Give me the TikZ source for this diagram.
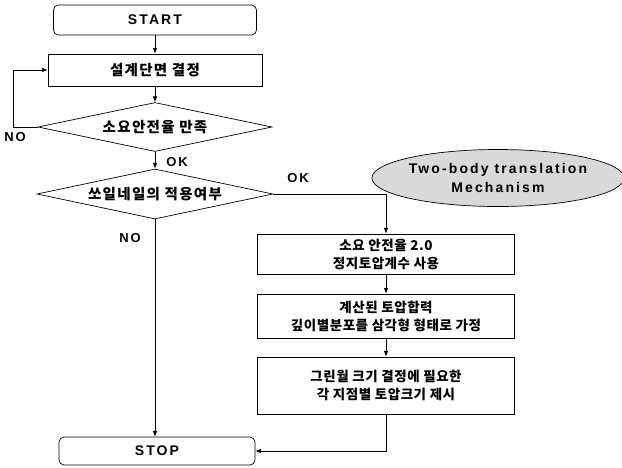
\documentclass[tikz,border=0pt]{standalone}
\usepackage{fontspec}
\setmainfont{Noto Sans CJK KR}
\newfontfamily\krwide{Noto Sans CJK KR}[LetterSpace=9]
\newfontfamily\krnarrow{Noto Sans CJK KR}[LetterSpace=4]
\newfontfamily\latinfont{Liberation Sans}[LetterSpace=15]
\usetikzlibrary{arrows.meta}
\usetikzlibrary{shapes.geometric}
\usetikzlibrary{positioning}

\tikzset{
	terminal/.style={draw, rectangle, rounded corners=5pt, font=\latinfont\bfseries\fontsize{14}{17}\selectfont},
	stepbox/.style={draw, rectangle, align=center, font=\krnarrow\bfseries\fontsize{13.5}{18}\selectfont},
	widebox/.style={draw, rectangle, font=\krwide\bfseries\fontsize{14.5}{18}\selectfont},
	decision/.style={draw, diamond, aspect=4.8, inner sep=0pt, font=\krwide\bfseries\fontsize{14.5}{18}\selectfont},
	note/.style={draw, ellipse, fill=gray!30, align=center, inner sep=0pt, font=\latinfont\bfseries\fontsize{14}{19}\selectfont},
	lbl/.style={font=\latinfont\bfseries\fontsize{13}{15}\selectfont},
	arr/.style={-{Latex[length=2mm, width=1.6mm]}}
}

\begin{document}
\begin{tikzpicture}[x=1pt, y=-1pt, line width=0.7pt]
			\useasboundingbox (0,0) rectangle (622,467);
			
			% left column
			\node[terminal, minimum width=203pt, minimum height=30pt] (start) at (155,20) {START};
			\node[widebox, minimum width=214pt, minimum height=32pt] (design) at (155,70) {설계단면 결정};
			\node[decision, minimum width=234pt, minimum height=49pt] (check1) at (155,127) {소요안전율 만족};
			\node[decision, minimum width=236pt, minimum height=50pt] (check2) at (155,194) {쏘일네일의 적용여부};
			\node[terminal, minimum width=196pt, minimum height=28pt] (stop) at (157,451) {STOP};
			
			% right column
			\node[note, minimum width=247pt, minimum height=57pt] (mech) at (498,178) {Two-body translation\\Mechanism};
			\node[stepbox, minimum width=257pt, minimum height=40pt] (coef) at (386,254) {소요 안전율 2.0\\정지토압계수 사용};
			\node[stepbox, minimum width=257pt, minimum height=44pt] (dist) at (386,316) {계산된 토압합력\\깊이별분포를 삼각형 형태로 가정};
			\node[stepbox, minimum width=257pt, minimum height=57pt] (size) at (386,385.5) {그린월 크기 결정에 필요한\\각 지점별 토압크기 제시};
			
			% labels
			\node[lbl] (no1) at (15,137) {NO};
			\node[lbl] (ok1) at (177,162) {OK};
			\node[lbl] (ok2) at (298,178) {OK};
			\node[lbl] (no2) at (130,238) {NO};
			
			\draw[arr] (start) -- (design);
			\draw[arr] (design) -- (check1);
			\draw[arr] (check1.west) -- ++(-24,0) |- (design.west);
			\draw[arr] (check1) -- (check2);
			\draw[arr] (check2.east) -| (coef.north);
			\draw[arr] (check2.south) -- (check2.south |- stop.north);
			\draw[arr] (coef) -- (dist);
			\draw[arr] (dist) -- (size);
			\draw[arr] (size.south) |- (stop.east);
		\end{tikzpicture}
\end{document}
